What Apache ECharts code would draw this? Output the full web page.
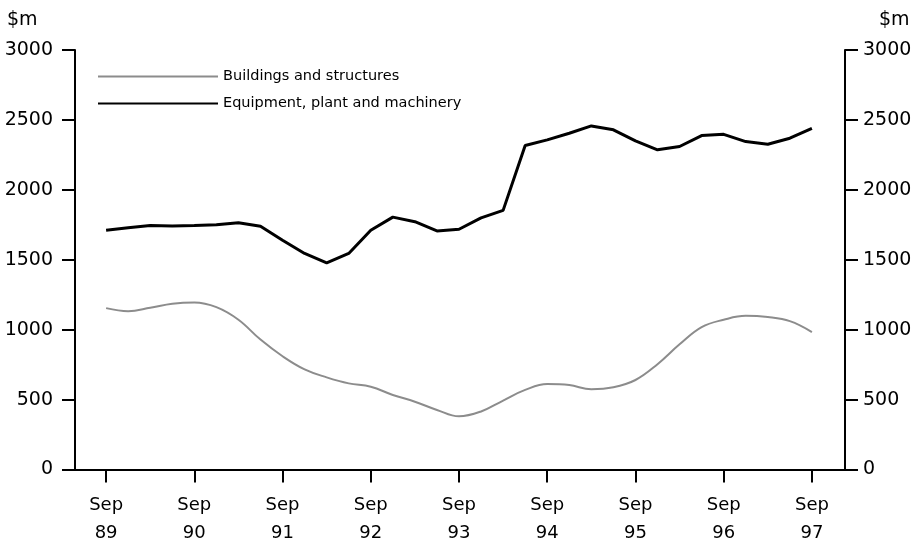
<!DOCTYPE html>
<html>
<head>
<meta charset="utf-8">
<script src="https://cdn.jsdelivr.net/npm/echarts@6/dist/echarts.min.js"></script>
<style>
html,body{margin:0;padding:0;background:#fff;}
#chart{width:915px;height:540px;}
</style>
</head>
<body>
<div id="chart"></div>
<script>
var quarters = ['Sep 89','Dec 89','Mar 90','Jun 90','Sep 90','Dec 90','Mar 91','Jun 91',
  'Sep 91','Dec 91','Mar 92','Jun 92','Sep 92','Dec 92','Mar 93','Jun 93',
  'Sep 93','Dec 93','Mar 94','Jun 94','Sep 94','Dec 94','Mar 95','Jun 95',
  'Sep 95','Dec 95','Mar 96','Jun 96','Sep 96','Dec 96','Mar 97','Jun 97','Sep 97'];
var buildings = [1154,1132,1156,1185,1194,1161,1071,929,810,716,659,616,592,533,485,426,
  380,415,493,569,611,604,574,588,640,753,895,1018,1071,1099,1090,1061,983];
var equipment = [1711,1729,1745,1742,1745,1750,1765,1740,1640,1545,1478,1545,1711,1805,1772,1706,
  1718,1800,1853,2317,2357,2405,2457,2429,2350,2286,2310,2388,2397,2345,2326,2369,2440];
var tickPositions = [0,4,8,12,16,20,24,28,32];
var tickLabels = ['Sep\n89','Sep\n90','Sep\n91','Sep\n92','Sep\n93','Sep\n94','Sep\n95','Sep\n96','Sep\n97'];

function pairs(arr){ return arr.map(function(v,i){ return [i, v]; }); }

var FONT = 'DejaVu Sans';
var chart = echarts.init(document.getElementById('chart'));
function yAxisDef(pos, margin){
  return {
    type: 'value', min: 0, max: 3000, interval: 500, position: pos,
    axisLine: {show: true, onZero: false, lineStyle: {color: '#000', width: 2}},
    axisTick: {show: true, length: 13, lineStyle: {color: '#000', width: 2}},
    splitLine: {show: false},
    axisLabel: {color: '#000', fontSize: 19, fontFamily: FONT, margin: margin,
      formatter: function(v){ return String(v); }}
  };
}
chart.setOption({
  animation: false,
  backgroundColor: '#fff',
  textStyle: {fontFamily: FONT},
  grid: {left: 75, right: 70, top: 50, bottom: 70.5, containLabel: false, outerBoundsMode: 'none'},
  legend: {
    orient: 'vertical', left: 92, top: 64,
    itemWidth: 120, itemHeight: 14, itemGap: 12,
    itemStyle: {opacity: 0},
    textStyle: {color: '#000', fontSize: 14.5, fontFamily: FONT},
    data: ['Buildings and structures', 'Equipment, plant and machinery']
  },
  xAxis: {
    type: 'value', min: -1.41, max: 33.5,
    axisLine: {show: true, onZero: false, lineStyle: {color: '#000', width: 2}},
    axisTick: {show: true, length: 13, customValues: tickPositions, lineStyle: {color: '#000', width: 2}},
    splitLine: {show: false},
    axisLabel: {
      customValues: tickPositions, margin: 22, lineHeight: 28,
      color: '#000', fontSize: 18, fontFamily: FONT,
      formatter: function(v){ var i = tickPositions.indexOf(Math.round(v)); return i >= 0 ? tickLabels[i] : ''; }
    }
  },
  yAxis: [yAxisDef('left', 22), yAxisDef('right', 18)],
  graphic: [
    {type: 'text', left: 7, top: 11, style: {text: '$m', fill: '#000', fontSize: 19, fontFamily: FONT}},
    {type: 'text', left: 879, top: 11, style: {text: '$m', fill: '#000', fontSize: 19, fontFamily: FONT}}
  ],
  series: [
    {
      name: 'Buildings and structures', type: 'line', yAxisIndex: 0,
      data: pairs(buildings), smooth: 0.4, symbol: 'none', showSymbol: false,
      lineStyle: {color: '#8c8c8c', width: 2},
      itemStyle: {color: '#8c8c8c'}
    },
    {
      name: 'Equipment, plant and machinery', type: 'line', yAxisIndex: 0,
      data: pairs(equipment), smooth: false, symbol: 'none', showSymbol: false,
      lineStyle: {color: '#000', width: 3},
      itemStyle: {color: '#000'}
    }
  ]
});
</script>
</body>
</html>
